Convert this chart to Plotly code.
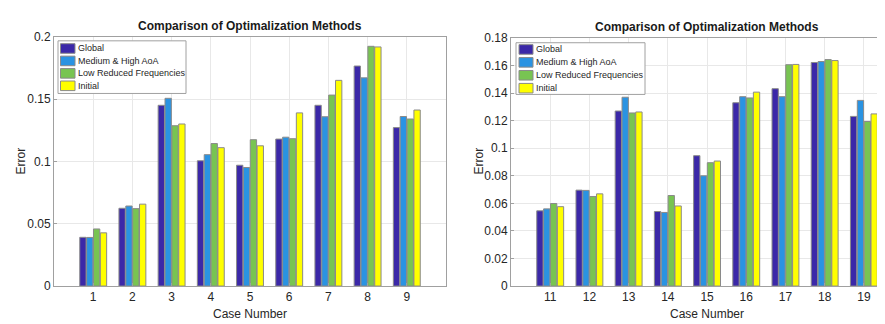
import plotly.graph_objects as go

series_names = ["Global", "Medium & High AoA", "Low Reduced Frequencies", "Initial"]
series_colors = ["#3B28A8", "#2A93E2", "#78C452", "#FFFF00"]

cases_left = [1, 2, 3, 4, 5, 6, 7, 8, 9]
global_left = [0.0391, 0.0624, 0.1450, 0.1005, 0.0969, 0.1179, 0.1450, 0.1765, 0.1271]
medium_left = [0.0390, 0.0642, 0.1506, 0.1054, 0.0951, 0.1194, 0.1358, 0.1670, 0.1360]
low_left = [0.0458, 0.0621, 0.1286, 0.1143, 0.1174, 0.1182, 0.1532, 0.1923, 0.1340]
initial_left = [0.0427, 0.0657, 0.1300, 0.1110, 0.1125, 0.1389, 0.1650, 0.1918, 0.1412]

cases_right = [11, 12, 13, 14, 15, 16, 17, 18, 19]
global_right = [0.0546, 0.0696, 0.1270, 0.0541, 0.0946, 0.1330, 0.1432, 0.1622, 0.1231]
medium_right = [0.0560, 0.0694, 0.1370, 0.0534, 0.0800, 0.1374, 0.1374, 0.1629, 0.1347]
low_right = [0.0599, 0.0650, 0.1256, 0.0657, 0.0895, 0.1365, 0.1606, 0.1643, 0.1194]
initial_right = [0.0576, 0.0669, 0.1263, 0.0581, 0.0907, 0.1407, 0.1608, 0.1636, 0.1249]

left_ticks = [0, 0.05, 0.1, 0.15, 0.2]
left_ticktext = ["0", "0.05", "0.1", "0.15", "0.2"]
right_ticks = [0, 0.02, 0.04, 0.06, 0.08, 0.1, 0.12, 0.14, 0.16, 0.18]
right_ticktext = ["0", "0.02", "0.04", "0.06", "0.08", "0.1", "0.12", "0.14", "0.16", "0.18"]

title_text = "Comparison of Optimalization Methods"
xlabel = "Case Number"
ylabel = "Error"

W, H = 885, 324
FONT = "Liberation Sans, Arial, sans-serif"
TXT = "#262626"
EDGE = "#8a8a8a"

fig = go.Figure()

left_data = [global_left, medium_left, low_left, initial_left]
right_data = [global_right, medium_right, low_right, initial_right]

for name, col, vals in zip(series_names, series_colors, left_data):
    fig.add_trace(go.Bar(x=cases_left, y=vals, name=name, showlegend=False,
                         marker=dict(color=col, line=dict(color=EDGE, width=1)), xaxis="x", yaxis="y"))
for name, col, vals in zip(series_names, series_colors, right_data):
    fig.add_trace(go.Bar(x=cases_right, y=vals, name=name, showlegend=False,
                         marker=dict(color=col, line=dict(color=EDGE, width=1)), xaxis="x2", yaxis="y2"))

def px_x(p):
    return p / W

def px_y(p):
    return 1 - p / H

axis_common = dict(showgrid=True, gridcolor="#E8E8E8", gridwidth=1, showline=True, linecolor="#A0A0A0",
                   linewidth=1, mirror=True, ticks="inside", ticklen=3, tickcolor="#A0A0A0",
                   tickfont=dict(family=FONT, size=12, color=TXT), zeroline=False)

fig.update_layout(
    width=W, height=H,
    margin=dict(l=0, r=0, t=0, b=0),
    paper_bgcolor="white", plot_bgcolor="white",
    barmode="group", bargap=0.3, bargroupgap=0.08,
    showlegend=False,
    xaxis=dict(domain=[px_x(46), px_x(438)], range=[0, 10], tickvals=cases_left, anchor="y", **axis_common),
    yaxis=dict(domain=[px_y(283.3), px_y(22.7)], range=[0, 0.2], tickvals=left_ticks, ticktext=left_ticktext,
               anchor="x", **axis_common),
    xaxis2=dict(domain=[px_x(503), 0.999], range=[10, 19.72], tickvals=cases_right, anchor="y2", **axis_common),
    yaxis2=dict(domain=[px_y(283.3), px_y(24)], range=[0, 0.18], tickvals=right_ticks, ticktext=right_ticktext,
                anchor="x2", **axis_common),
)

# custom legends (box, swatches, labels) in paper pixel coordinates
def add_legend(x0, y0, x1, y1, sw_x0, sw_x1, row_c, row_step, txt_x):
    fig.add_shape(type="rect", xref="paper", yref="paper", x0=px_x(x0), x1=px_x(x1), y0=px_y(y1), y1=px_y(y0),
                  fillcolor="white", line=dict(color="#A0A0A0", width=1), layer="above")
    for i, (name, col) in enumerate(zip(series_names, series_colors)):
        cy = row_c + i * row_step
        fig.add_shape(type="rect", xref="paper", yref="paper", x0=px_x(sw_x0), x1=px_x(sw_x1),
                      y0=px_y(cy + 5), y1=px_y(cy - 5), fillcolor=col, line=dict(color=EDGE, width=1),
                      layer="above")
        fig.add_annotation(text=name, x=px_x(txt_x), y=px_y(cy), xref="paper", yref="paper",
                           xanchor="left", yanchor="middle", showarrow=False,
                           font=dict(family=FONT, size=9, color=TXT))

add_legend(50, 27, 178, 82, 52.5, 67, 35, 13, 67.5)
add_legend(508, 29, 637, 83, 511, 525, 36, 13.5, 526)

annots = [
    dict(text="<b>" + title_text + "</b>", x=px_x(242), y=px_y(12)),
    dict(text="<b>" + title_text + "</b>", x=px_x(699), y=px_y(13)),
    dict(text=xlabel, x=px_x(242), y=px_y(312), size=12),
    dict(text=xlabel, x=px_x(699), y=px_y(312), size=12),
    dict(text=ylabel, x=px_x(13), y=px_y(153), size=12, angle=-90),
    dict(text=ylabel, x=px_x(471), y=px_y(153), size=12, angle=-90),
]
for a in annots:
    fig.add_annotation(text=a["text"], x=a["x"], y=a["y"], xref="paper", yref="paper",
                       xanchor="center", yanchor="middle", showarrow=False,
                       textangle=a.get("angle", 0),
                       font=dict(family=FONT, size=a.get("size", 12), color="#1a1a1a" if "<b>" in a["text"] else TXT))

fig.write_html("out.html")
